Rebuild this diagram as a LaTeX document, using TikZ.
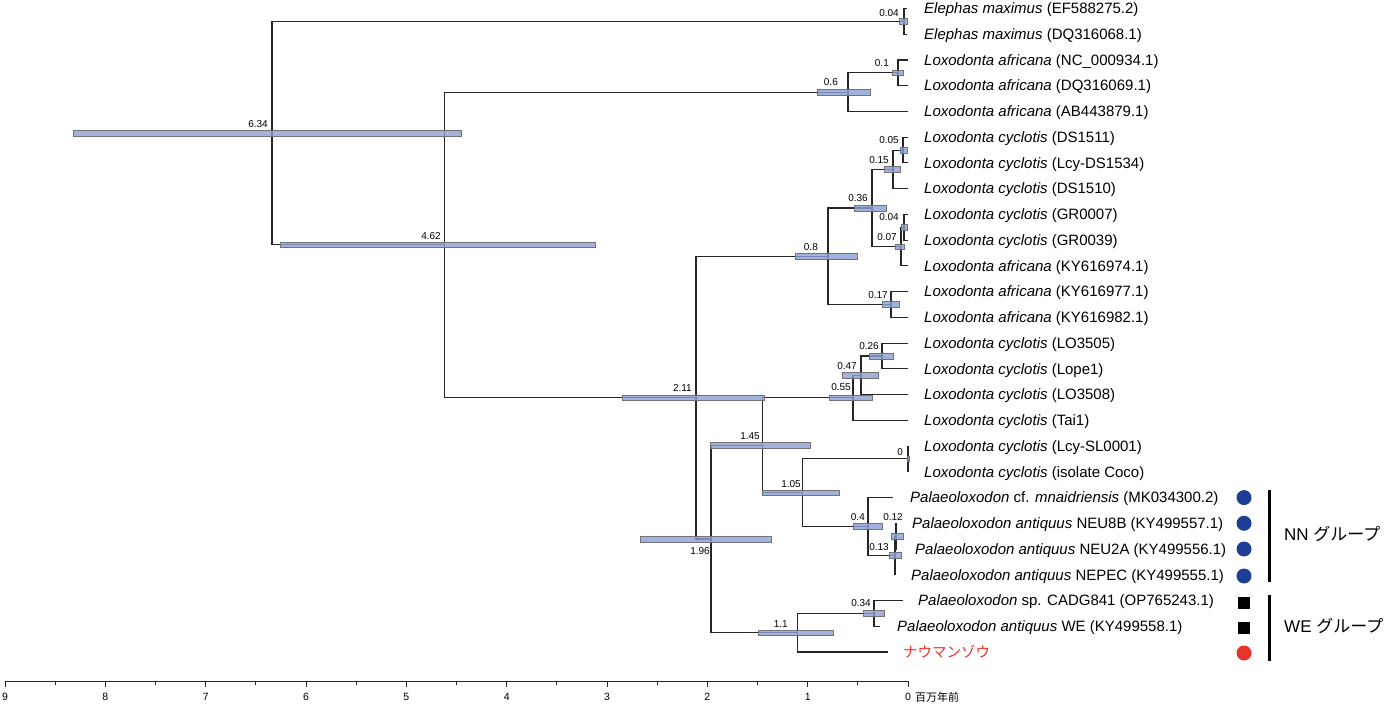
\documentclass[tikz,border=0pt]{standalone}
\usepackage{fontspec}
\setmainfont{Liberation Sans}
\newfontfamily\jpfont{Noto Sans CJK JP}
\definecolor{hpdblue}{RGB}{138,160,212}
\definecolor{dotblue}{RGB}{30,62,150}
\definecolor{dotred}{RGB}{232,52,40}
\newcommand\hpdbar[3]{\path[hpd] ({#1},{#3-2.8}) rectangle ({#2},{#3+2.8});}
\begin{document}
\begin{tikzpicture}[x=1pt,y=-1pt,
  br/.style={draw=black!85, line width=1.1pt},
  hpd/.style={fill=hpdblue, fill opacity=0.8, draw=black!55, line width=0.5pt},
  bl/.style={font=\fontsize{10}{12}\selectfont, inner sep=0pt, anchor=east},
  tip/.style={font=\fontsize{15}{18}\selectfont, inner sep=0pt, anchor=base west},
  axl/.style={font=\fontsize{10.5}{12}\selectfont, inner sep=0pt},
  grp/.style={font=\fontsize{17}{20}\selectfont, inner sep=0pt, anchor=west},
  grpbar/.style={draw=black, line width=3pt},
  bdot/.style={circle, fill=dotblue, minimum size=15pt, inner sep=0pt},
  rdot/.style={circle, fill=dotred, minimum size=15pt, inner sep=0pt},
  sq/.style={rectangle, fill=black, minimum size=12pt, inner sep=0pt}]
\useasboundingbox (0,0) rectangle (1386,708);

% internal nodes
\coordinate (n634) at (272,133.2);
\coordinate (n462) at (444.5,244.9);
\coordinate (n004a) at (904,21.4);
\coordinate (n060) at (848,92.2);
\coordinate (n010) at (898,72.9);
\coordinate (n211) at (696,397.6);
\coordinate (n080) at (828,256.3);
\coordinate (n036) at (872,208);
\coordinate (n015) at (893,169.4);
\coordinate (n005) at (903,150.1);
\coordinate (n004b) at (904,227.3);
\coordinate (n007) at (901,246.6);
\coordinate (n017) at (891,304.5);
\coordinate (n196) at (711,539);
\coordinate (n145) at (762.5,445.3);
\coordinate (n055) at (853,397.8);
\coordinate (n047) at (861,375.3);
\coordinate (n026) at (882,356);
\coordinate (n105) at (802.7,492.7);
\coordinate (n000) at (908,458.9);
\coordinate (n040) at (868,526.5);
\coordinate (n013) at (895,555.5);
\coordinate (n012) at (896,536.2);
\coordinate (n110) at (797.6,632.7);
\coordinate (n034) at (874,613.4);

% tip ends
\coordinate (e0) at (907,8.5);
\coordinate (e1) at (907,34.2);
\coordinate (e2) at (908,60.0);
\coordinate (e3) at (908,85.7);
\coordinate (e4) at (908,111.5);
\coordinate (e5) at (908,137.2);
\coordinate (e6) at (908,162.9);
\coordinate (e7) at (908,188.7);
\coordinate (e8) at (908,214.4);
\coordinate (e9) at (908,240.2);
\coordinate (e10) at (908,265.9);
\coordinate (e11) at (908,291.6);
\coordinate (e12) at (908,317.4);
\coordinate (e13) at (908,343.1);
\coordinate (e14) at (908,368.9);
\coordinate (e15) at (908,394.6);
\coordinate (e16) at (908,420.3);
\coordinate (e17) at (908,446.1);
\coordinate (e18) at (908,471.8);
\coordinate (e19) at (893,497.6);
\coordinate (e20) at (897,523.3);
\coordinate (e21) at (897,549.0);
\coordinate (e22) at (895,574.8);
\coordinate (e23) at (903,600.5);
\coordinate (e24) at (880,626.3);
\coordinate (e25) at (888,652.0);

% branches
\draw[br] (n634) |- (n004a);
\draw[br] (n634) |- (n462);
\draw[br] (n004a) |- (e0);
\draw[br] (n004a) |- (e1);
\draw[br] (n462) |- (n060);
\draw[br] (n462) |- (n211);
\draw[br] (n060) |- (n010);
\draw[br] (n060) |- (e4);
\draw[br] (n010) |- (e2);
\draw[br] (n010) |- (e3);
\draw[br] (n211) |- (n080);
\draw[br] (n211) |- (n196);
\draw[br] (n080) |- (n036);
\draw[br] (n080) |- (n017);
\draw[br] (n036) |- (n015);
\draw[br] (n036) |- (n007);
\draw[br] (n015) |- (n005);
\draw[br] (n015) |- (e7);
\draw[br] (n005) |- (e5);
\draw[br] (n005) |- (e6);
\draw[br] (n007) |- (n004b);
\draw[br] (n007) |- (e10);
\draw[br] (n004b) |- (e8);
\draw[br] (n004b) |- (e9);
\draw[br] (n017) |- (e11);
\draw[br] (n017) |- (e12);
\draw[br] (n196) |- (n145);
\draw[br] (n196) |- (n110);
\draw[br] (n145) |- (n055);
\draw[br] (n145) |- (n105);
\draw[br] (n055) |- (n047);
\draw[br] (n055) |- (e16);
\draw[br] (n047) |- (n026);
\draw[br] (n047) |- (e15);
\draw[br] (n026) |- (e13);
\draw[br] (n026) |- (e14);
\draw[br] (n105) |- (n000);
\draw[br] (n105) |- (n040);
\draw[br] (n000) |- (e17);
\draw[br] (n000) |- (e18);
\draw[br] (n040) |- (e19);
\draw[br] (n040) |- (n013);
\draw[br] (n013) |- (n012);
\draw[br] (n013) |- (e22);
\draw[br] (n012) |- (e20);
\draw[br] (n012) |- (e21);
\draw[br] (n110) |- (n034);
\draw[br] (n110) |- (e25);
\draw[br] (n034) |- (e23);
\draw[br] (n034) |- (e24);

% HPD bars
\hpdbar{73}{461}{133.2}
\hpdbar{280}{595}{244.9}
\hpdbar{622}{764}{397.6}
\hpdbar{640}{771}{539}
\hpdbar{710}{810}{445.3}
\hpdbar{762}{839}{492.7}
\hpdbar{758}{833}{632.7}
\hpdbar{795}{857}{256.3}
\hpdbar{817}{870}{92.2}
\hpdbar{829}{872}{397.8}
\hpdbar{842}{878}{375.3}
\hpdbar{853}{882}{526.5}
\hpdbar{854}{886}{208}
\hpdbar{863}{884}{613.4}
\hpdbar{869}{893}{356}
\hpdbar{882}{899}{304.5}
\hpdbar{884}{900}{169.4}
\hpdbar{889}{901}{555.5}
\hpdbar{891}{903}{536.2}
\hpdbar{892}{903}{72.9}
\hpdbar{895}{904}{246.6}
\hpdbar{900}{907}{150.1}
\hpdbar{899}{907}{21.4}
\hpdbar{901}{907}{227.3}
\hpdbar{907}{909}{458.9}

% node age labels
\node[bl] (l634) at (268,124) {6.34};
\node[bl] (l462) at (441,236) {4.62};
\node[bl] (l004a) at (899,13) {0.04};
\node[bl] (l010) at (889,63) {0.1};
\node[bl] (l060) at (838,82) {0.6};
\node[bl] (l005) at (899,140) {0.05};
\node[bl] (l015) at (889,160) {0.15};
\node[bl] (l036) at (868,198) {0.36};
\node[bl] (l004b) at (899,217) {0.04};
\node[bl] (l007) at (897,237) {0.07};
\node[bl] (l080) at (818,247) {0.8};
\node[bl] (l017) at (888,295) {0.17};
\node[bl] (l026) at (879,346) {0.26};
\node[bl] (l047) at (857,366) {0.47};
\node[bl] (l211) at (692,388) {2.11};
\node[bl] (l055) at (851,387) {0.55};
\node[bl] (l145) at (760,436) {1.45};
\node[bl] (l000) at (903,452) {0};
\node[bl] (l105) at (801,484) {1.05};
\node[bl] (l040) at (865,517) {0.4};
\node[bl] (l012) at (903,517) {0.12};
\node[bl] (l013) at (889,547) {0.13};
\node[bl] (l196) at (710,551) {1.96};
\node[bl] (l034) at (871,603) {0.34};
\node[bl] (l110) at (788,624) {1.1};

% tip labels
\node[tip] (t0) at (924,13.7) {\textit{Elephas maximus} (EF588275.2)};
\node[tip] (t1) at (924,39.4) {\textit{Elephas maximus} (DQ316068.1)};
\node[tip] (t2) at (924,65.2) {\textit{Loxodonta africana} (NC\_000934.1)};
\node[tip] (t3) at (924,90.9) {\textit{Loxodonta africana} (DQ316069.1)};
\node[tip] (t4) at (924,116.7) {\textit{Loxodonta africana} (AB443879.1)};
\node[tip] (t5) at (924,142.4) {\textit{Loxodonta cyclotis} (DS1511)};
\node[tip] (t6) at (924,168.1) {\textit{Loxodonta cyclotis} (Lcy-DS1534)};
\node[tip] (t7) at (924,193.9) {\textit{Loxodonta cyclotis} (DS1510)};
\node[tip] (t8) at (924,219.6) {\textit{Loxodonta cyclotis} (GR0007)};
\node[tip] (t9) at (924,245.4) {\textit{Loxodonta cyclotis} (GR0039)};
\node[tip] (t10) at (924,271.1) {\textit{Loxodonta africana} (KY616974.1)};
\node[tip] (t11) at (924,296.8) {\textit{Loxodonta africana} (KY616977.1)};
\node[tip] (t12) at (924,322.6) {\textit{Loxodonta africana} (KY616982.1)};
\node[tip] (t13) at (924,348.3) {\textit{Loxodonta cyclotis} (LO3505)};
\node[tip] (t14) at (924,374.1) {\textit{Loxodonta cyclotis} (Lope1)};
\node[tip] (t15) at (924,399.8) {\textit{Loxodonta cyclotis} (LO3508)};
\node[tip] (t16) at (924,425.5) {\textit{Loxodonta cyclotis} (Tai1)};
\node[tip] (t17) at (924,451.3) {\textit{Loxodonta cyclotis} (Lcy-SL0001)};
\node[tip] (t18) at (924,477.0) {\textit{Loxodonta cyclotis} (isolate Coco)};
\node[tip] (t19) at (910,502.8) {\textit{Palaeoloxodon} cf. \textit{mnaidriensis} (MK034300.2)};
\node[tip] (t20) at (912,528.5) {\textit{Palaeoloxodon antiquus} NEU8B (KY499557.1)};
\node[tip] (t21) at (915,554.2) {\textit{Palaeoloxodon antiquus} NEU2A (KY499556.1)};
\node[tip] (t22) at (911,580.0) {\textit{Palaeoloxodon antiquus} NEPEC (KY499555.1)};
\node[tip] (t23) at (918,605.7) {\textit{Palaeoloxodon} sp. CADG841 (OP765243.1)};
\node[tip] (t24) at (897,631.5) {\textit{Palaeoloxodon antiquus} WE (KY499558.1)};
\node[tip, text=dotred, font=\jpfont\fontsize{14.5}{17}\selectfont] (t25) at (903,657.2) {ナウマンゾウ};

% group markers
\node[bdot] (d19) at (1244,497.6) {};
\node[bdot] (d20) at (1244,523.3) {};
\node[bdot] (d21) at (1244,549.0) {};
\node[bdot] (d22) at (1244,576) {};
\node[sq] (d23) at (1244,602.5) {};
\node[sq] (d24) at (1244,627.5) {};
\node[rdot] (d25) at (1244,653) {};
\coordinate (nnA) at (1269,490);
\coordinate (nnB) at (1269,582);
\coordinate (weA) at (1269,595);
\coordinate (weB) at (1269,661);
\draw[grpbar] (nnA) -- (nnB);
\draw[grpbar] (weA) -- (weB);
\node[grp] (gNN) at (1284,534) {NN {\jpfont グループ}};
\node[grp] (gWE) at (1284,626) {WE {\jpfont グループ}};

% axis
\coordinate (ax0) at (908,681);
\coordinate (ax9) at (5,681);
\draw[black!85, line width=1pt] (ax9) -- (ax0);
\foreach \t in {0,...,9} {
  \draw[black!85, line width=1pt] ({908-100.33*\t},681) -- ({908-100.33*\t},686.5);
  \node[axl] at ({908-100.33*\t},697) {\t};
}
\foreach \t in {0.5,1.5,2.5,3.5,4.5,5.5,6.5,7.5,8.5} {
  \draw[black!85, line width=0.8pt] ({908-100.33*\t},681) -- ({908-100.33*\t},684.5);
}
\node[axl, anchor=west, font=\jpfont\fontsize{11}{12}\selectfont] (unit) at (915,697) {百万年前};
\end{tikzpicture}
\end{document}
